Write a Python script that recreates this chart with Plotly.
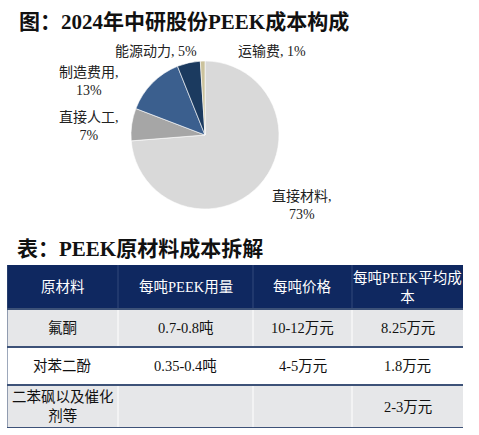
import plotly.graph_objects as go

# ---- pie data ----
pie_labels = ["直接材料", "直接人工", "制造费用", "能源动力", "运输费"]
pie_values = [73, 7, 13, 5, 1]
pie_colors = ["#D9D9D9", "#A6A6A6", "#3B5F8E", "#1B3A5F", "#CBC29C"]

# ---- table data ----
table_header = ["原材料", "每吨PEEK用量", "每吨价格", "每吨PEEK平均成<br>本"]
col_material = ["氟酮", "对苯二酚", "二苯砜以及催化<br>剂等"]
col_usage = ["0.7-0.8吨", "0.35-0.4吨", ""]
col_price = ["10-12万元", "4-5万元", ""]
col_cost = ["8.25万元", "1.8万元", "2-3万元"]

W, H = 479, 435
def px(x):
    return x / W
def py(y):
    return 1 - y / H

FONT = "Liberation Serif, 'Noto Sans CJK SC', serif"

fig = go.Figure()

fig.add_trace(go.Pie(
    labels=pie_labels, values=pie_values, sort=False, direction="clockwise",
    rotation=0, textinfo="none", hoverinfo="label+percent",
    marker=dict(colors=pie_colors, line=dict(color="white", width=0.6)),
    domain=dict(x=[px(131), px(279)], y=[py(209), py(61)]),
    showlegend=False,
))

# pie labels (text from data)
label_pos = {
    "直接材料": (302, 205, True),
    "直接人工": (89, 126, True),
    "制造费用": (89, 81, True),
    "能源动力": (156, 52, False),
    "运输费": (272, 52, False),
}
for lab, val in zip(pie_labels, pie_values):
    x, y, two = label_pos[lab]
    txt = f"{lab},<br>{val}%" if two else f"{lab}, {val}%"
    fig.add_annotation(x=px(x), y=py(y), xref="paper", yref="paper",
                       xanchor="center", yanchor="middle",
                       text=txt, showarrow=False, align="center",
                       font=dict(family=FONT, size=14, color="#222"))

# ---- table drawn on its own axes ----
col_widths = [111, 135, 99, 111]       # layout sizes (px units)
row_heights = [44, 38, 38, 43]         # header + body rows
row_fills = ["#0F2860", "#E6E7E9", "#FFFFFF", "#E6E7E9"]
x_edges = [0]
for w in col_widths:
    x_edges.append(x_edges[-1] + w)
y_edges = [0]
for h in row_heights:
    y_edges.append(y_edges[-1] + h)

columns = [col_material, col_usage, col_price, col_cost]
rows = [table_header] + [[c[i] for c in columns] for i in range(len(col_material))]

for r, row in enumerate(rows):
    y0, y1 = y_edges[r], y_edges[r + 1]
    fig.add_shape(type="rect", xref="x", yref="y", x0=x_edges[0], x1=x_edges[-1],
                  y0=y0, y1=y1, fillcolor=row_fills[r], line=dict(width=0), layer="below")
    for c, val in enumerate(row):
        xa, xb = x_edges[c], x_edges[c + 1]
        if c > 0:
            fig.add_shape(type="line", xref="x", yref="y", x0=xa, x1=xa, y0=y0, y1=y1,
                          line=dict(color="#33487A" if r == 0 else "white", width=1))
        if val:
            fig.add_annotation(x=(xa + xb) / 2, y=(y0 + y1) / 2, xref="x", yref="y",
                               xanchor="center", yanchor="middle",
                               text=val, showarrow=False, align="center",
                               font=dict(family=FONT, size=14.5,
                                         color="white" if r == 0 else "#111"))
for yy in y_edges[1:]:
    fig.add_shape(type="line", xref="x", yref="y", x0=x_edges[0], x1=x_edges[-1],
                  y0=yy, y1=yy, line=dict(color="#3D5278", width=2))
fig.add_shape(type="line", xref="x", yref="y", x0=0, x1=0, y0=0, y1=y_edges[-1],
              line=dict(color="#3D5278", width=1))

fig.update_xaxes(range=[x_edges[0], x_edges[-1]], domain=[px(7), px(463)],
                 visible=False, fixedrange=True)
fig.update_yaxes(range=[y_edges[-1], y_edges[0]], domain=[py(265 + y_edges[-1]), py(265)],
                 visible=False, fixedrange=True)

fig.add_annotation(x=px(17), y=py(22), xref="paper", yref="paper",
                   xanchor="left", yanchor="middle", showarrow=False,
                   text="<b>图：2024年中研股份PEEK成本构成</b>",
                   font=dict(family=FONT, size=21, color="#111"))
fig.add_annotation(x=px(15), y=py(249), xref="paper", yref="paper",
                   xanchor="left", yanchor="middle", showarrow=False,
                   text="<b>表：PEEK原材料成本拆解</b>",
                   font=dict(family=FONT, size=21, color="#111"))

fig.update_layout(width=W, height=H, margin=dict(l=0, r=0, t=0, b=0),
                  paper_bgcolor="white", plot_bgcolor="rgba(0,0,0,0)")
fig.write_html("out.html", config={"displayModeBar": False},
               post_script="document.body.style.margin='0';")
